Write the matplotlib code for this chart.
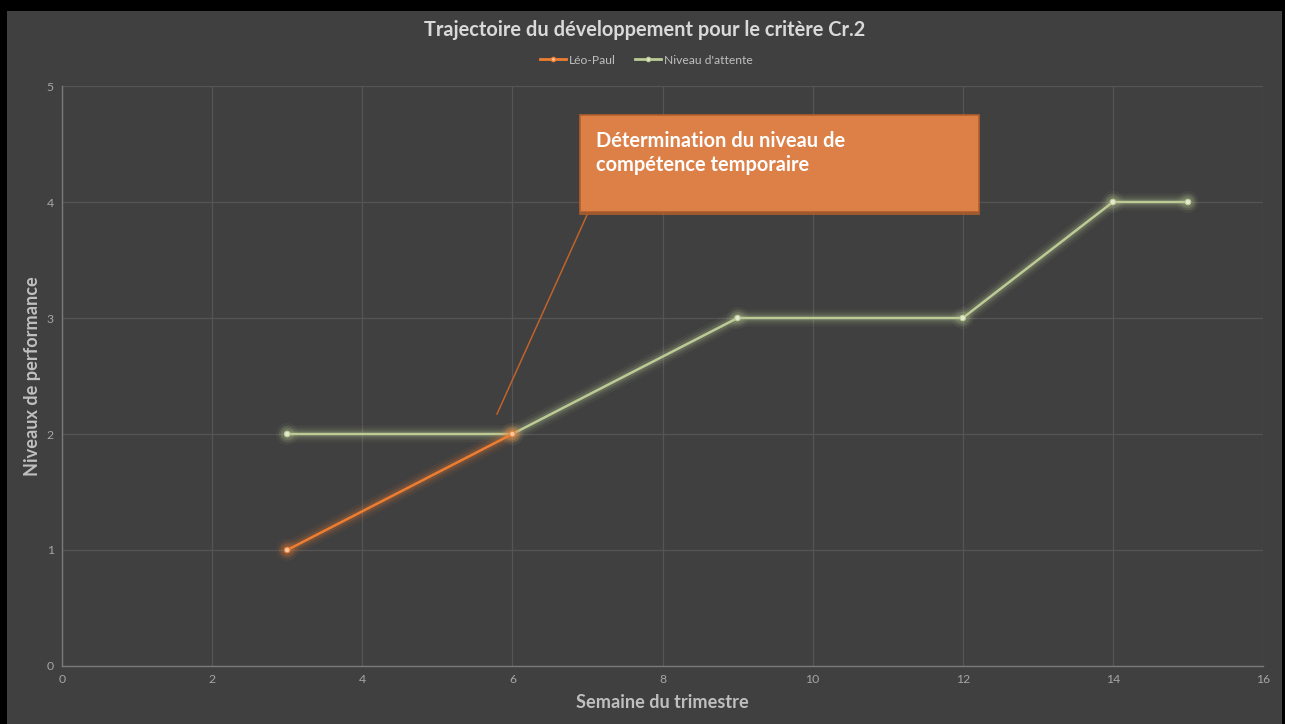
import matplotlib
matplotlib.use("Agg")
import matplotlib.pyplot as plt
import matplotlib.patheffects as pe
from matplotlib.patches import Rectangle

# Data
weeks_leo = [3, 6]
levels_leo = [1, 2]
weeks_target = [3, 6, 9, 12, 14, 15]
levels_target = [2, 2, 3, 3, 4, 4]
x_ticks = [0, 2, 4, 6, 8, 10, 12, 14, 16]
y_ticks = [0, 1, 2, 3, 4, 5]

title = "Trajectoire du développement pour le critère Cr.2"
x_label = "Semaine du trimestre"
y_label = "Niveaux de performance"
series_names = ["Léo-Paul", "Niveau d'attente"]
note_lines = ["Détermination du niveau de", "compétence temporaire"]

FONT = "Lato"
plt.rcParams["font.family"] = [FONT, "DejaVu Sans"]

BG = "#404040"
ORANGE = "#ed7d31"
GREEN = "#bccb95"
TEXT = "#bfbfbf"
TICK = "#a6a6a6"
GRID = "#555555"

W, H = 1291, 724
fig = plt.figure(figsize=(W / 100, H / 100), dpi=100, facecolor="white")
# outer frame and chart area
fig.patches.append(Rectangle((0, 0), 1285 / W, 1, transform=fig.transFigure,
                             facecolor="black", edgecolor="none", zorder=-3))
fig.patches.append(Rectangle((7 / W, 0), (1282 - 7) / W, 1 - 11 / H,
                             transform=fig.transFigure, facecolor=BG,
                             edgecolor="none", zorder=-2))

ax = fig.add_axes([62 / W, 1 - 666 / H, (1263 - 62) / W, (666 - 86) / H])
ax.set_facecolor(BG)
ax.set_xlim(0, 16)
ax.set_ylim(0, 5)
ax.set_xticks(x_ticks)
ax.set_yticks(y_ticks)
ax.grid(True, color=GRID, lw=0.9)
ax.set_axisbelow(True)
for s in ["top", "right"]:
    ax.spines[s].set_visible(False)
for s in ["left", "bottom"]:
    ax.spines[s].set_color("#7a7a7a")
    ax.spines[s].set_linewidth(1.0)
ax.tick_params(length=0, colors=TICK, labelsize=8.8, pad=6)


def glow(color):
    return [pe.Stroke(linewidth=12, foreground=color, alpha=0.06),
            pe.Stroke(linewidth=8, foreground=color, alpha=0.10),
            pe.Stroke(linewidth=5, foreground=color, alpha=0.16),
            pe.Normal()]


ax.plot(weeks_target, levels_target, color=GREEN, lw=1.8, marker="o", ms=4,
        mfc="#e3ead0", mec=GREEN, mew=0.8, label=series_names[1],
        path_effects=glow(GREEN), zorder=3, solid_capstyle="round")
ax.plot(weeks_leo, levels_leo, color=ORANGE, lw=1.8, marker="o", ms=4,
        mfc="#f8c9a8", mec=ORANGE, mew=0.8, label=series_names[0],
        path_effects=glow(ORANGE), zorder=4, solid_capstyle="round")

handles, labels = ax.get_legend_handles_labels()
leg_h = [handles[1], handles[0]]
leg_l = [labels[1], labels[0]]
leg_lines = []
for h in leg_h:
    l, = ax.plot([], [], color=h.get_color(), lw=2, marker="o", ms=3,
                 mfc=h.get_markerfacecolor(), mec=h.get_color())
    leg_lines.append(l)
leg = fig.legend(leg_lines, leg_l, loc="center", bbox_to_anchor=(646 / W, 1 - 60 / H),
                 ncol=2, frameon=False, fontsize=8.7, handlelength=2.2,
                 handletextpad=0.2, columnspacing=1.6)
for t in leg.get_texts():
    t.set_color(TEXT)

fig.text(645 / W, 1 - 30 / H, title, ha="center", va="center",
         fontsize=14.4, fontweight="bold", color="#d9d9d9")
fig.text(662 / W, 1 - 703 / H, x_label, ha="center", va="center",
         fontsize=13.1, fontweight="bold", color=TEXT)
fig.text(33 / W, 1 - 376 / H, y_label, ha="center", va="center",
         rotation=90, fontsize=13.1, fontweight="bold", color=TEXT)

# Callout box with leader line
bx0, bx1 = (580 - 62) / 1201, (979 - 62) / 1201
by0, by1 = (666 - 212) / 580, (666 - 115) / 580
ax.add_patch(Rectangle((bx0, by0), bx1 - bx0, by1 - by0, transform=ax.transAxes,
                       facecolor="#dd8048", edgecolor="#b35f2c", lw=1.2, zorder=6))
ax.plot([bx0, bx1], [(666 - 214) / 580] * 2, transform=ax.transAxes,
        color="#b35f2c", lw=1.2, zorder=6)
ax.plot([(587 - 62) / 1201, (497 - 62) / 1201],
        [(666 - 215) / 580, (666 - 414) / 580], transform=ax.transAxes,
        color="#c0622a", lw=1.1, zorder=6)
for line, base in zip(note_lines, [147, 171]):
    ax.text((596 - 62) / 1201, (666 - base) / 580, line, transform=ax.transAxes,
            ha="left", va="baseline", fontsize=14.4, fontweight="bold",
            color="white", zorder=7)

fig.savefig("out.png", dpi=100, facecolor="white")
